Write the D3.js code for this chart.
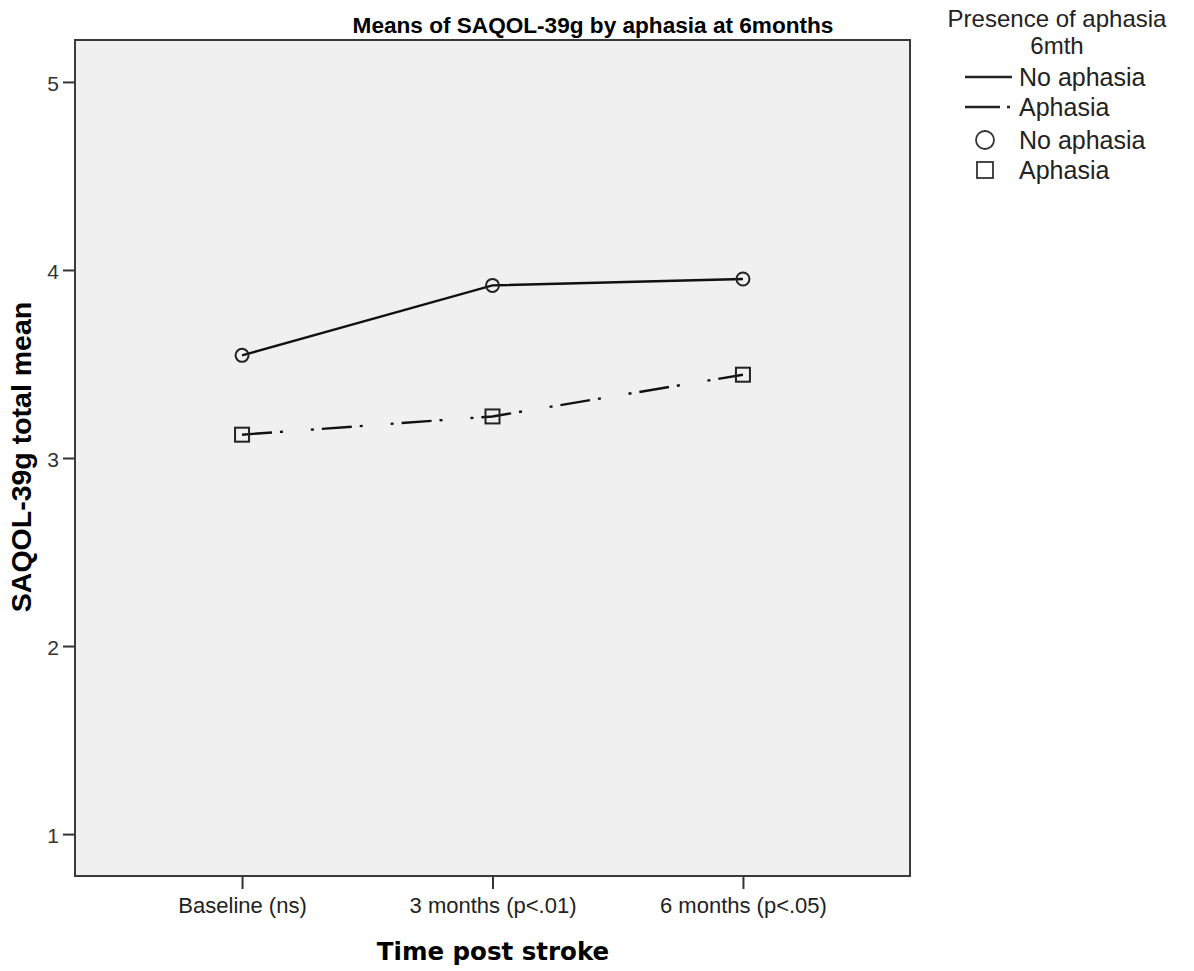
<!DOCTYPE html>
<html>
<head>
<meta charset="utf-8">
<script src="https://cdn.jsdelivr.net/npm/d3@7"></script>
<style>
  html, body { margin: 0; padding: 0; background: #fff; }
  svg { display: block; }
</style>
</head>
<body>
<svg id="chart" width="1194" height="971"></svg>
<script>
// ---- data ----
const categories = ["Baseline (ns)", "3 months (p<.01)", "6 months (p<.05)"];
const noAphasia = [3.546, 3.918, 3.952];
const aphasia = [3.124, 3.221, 3.443];
const yTicks = [1, 2, 3, 4, 5];
const seriesNames = ["No aphasia", "Aphasia"];

const svg = d3.select("#chart");
const plot = { left: 75, right: 910, top: 40, bottom: 876 };

const x = d3.scalePoint().domain(categories).range([plot.left, plot.right]).padding(0.667);
const y = d3.scaleLinear().domain([0.777, 5.223]).range([plot.bottom, plot.top]);

const fontReg = "'Liberation Sans', Arial, sans-serif";

// background
svg.append("rect")
  .attr("x", plot.left).attr("y", plot.top)
  .attr("width", plot.right - plot.left).attr("height", plot.bottom - plot.top)
  .attr("fill", "#f0f0f0");

// lines
const line = d3.line().x((d, i) => x(categories[i])).y(d => y(d));
svg.append("path").datum(noAphasia).attr("d", line)
  .attr("fill", "none").attr("stroke", "#111").attr("stroke-width", 2.4);
svg.append("path").datum(aphasia).attr("d", line)
  .attr("fill", "none").attr("stroke", "#111").attr("stroke-width", 2.4)
  .attr("stroke-dasharray", "30,8,3,28,3,8");

// markers
svg.selectAll("circle.m").data(noAphasia).enter().append("circle")
  .attr("cx", (d, i) => x(categories[i])).attr("cy", d => y(d)).attr("r", 6.5)
  .attr("fill", "none").attr("stroke", "#222").attr("stroke-width", 2);
svg.selectAll("rect.m").data(aphasia).enter().append("rect")
  .attr("x", (d, i) => x(categories[i]) - 7).attr("y", d => y(d) - 7)
  .attr("width", 14).attr("height", 14)
  .attr("fill", "none").attr("stroke", "#222").attr("stroke-width", 2);

// axes
const yAxis = svg.append("g").attr("transform", `translate(${plot.left},0)`)
  .call(d3.axisLeft(y).tickValues(yTicks).tickSize(12).tickPadding(4).tickFormat(d3.format("d")));
yAxis.select(".domain").remove();
yAxis.selectAll("line").attr("stroke", "#333").attr("stroke-width", 2);
yAxis.selectAll("text").attr("font-family", fontReg).attr("font-size", 21).attr("fill", "#333")
  .attr("dy", "0.4em");

const xAxis = svg.append("g").attr("transform", `translate(0,${plot.bottom})`)
  .call(d3.axisBottom(x).tickSize(13).tickPadding(6));
xAxis.select(".domain").remove();
xAxis.selectAll("line").attr("stroke", "#333").attr("stroke-width", 2);
xAxis.selectAll("text").attr("font-family", fontReg).attr("font-size", 22).attr("fill", "#222")
  .attr("dy", "0.8em");

// frame
svg.append("rect")
  .attr("x", plot.left).attr("y", plot.top)
  .attr("width", plot.right - plot.left).attr("height", plot.bottom - plot.top)
  .attr("fill", "none").attr("stroke", "#3a3a3a").attr("stroke-width", 2);

// title
svg.append("text").attr("x", 593).attr("y", 33).attr("text-anchor", "middle")
  .attr("font-family", fontReg).attr("font-weight", "bold").attr("font-size", 22.6)
  .attr("fill", "#000").text("Means of SAQOL-39g by aphasia at 6months");

// axis titles
svg.append("text").attr("x", 493).attr("y", 960).attr("text-anchor", "middle")
  .attr("font-family", "'DejaVu Sans', sans-serif").attr("font-weight", "bold").attr("font-size", 24.5)
  .attr("fill", "#000").text("Time post stroke");
svg.append("text").attr("transform", "translate(31,457) rotate(-90)").attr("text-anchor", "middle")
  .attr("font-family", fontReg).attr("font-weight", "bold").attr("font-size", 28.5)
  .attr("fill", "#000").text("SAQOL-39g total mean");

// legend
const lg = svg.append("g");
lg.append("text").attr("x", 1057).attr("y", 27).attr("text-anchor", "middle")
  .attr("font-family", fontReg).attr("font-size", 24).attr("fill", "#222").text("Presence of aphasia");
lg.append("text").attr("x", 1057).attr("y", 54).attr("text-anchor", "middle")
  .attr("font-family", fontReg).attr("font-size", 24).attr("fill", "#222").text("6mth");

const legItems = [
  { type: "solid", label: seriesNames[0], y: 77 },
  { type: "dash", label: seriesNames[1], y: 107 },
  { type: "circle", label: seriesNames[0], y: 140 },
  { type: "square", label: seriesNames[1], y: 170 }
];
legItems.forEach(it => {
  if (it.type === "solid") {
    lg.append("line").attr("x1", 965).attr("x2", 1012).attr("y1", it.y).attr("y2", it.y)
      .attr("stroke", "#222").attr("stroke-width", 2.5);
  } else if (it.type === "dash") {
    lg.append("line").attr("x1", 965).attr("x2", 1012).attr("y1", it.y).attr("y2", it.y)
      .attr("stroke", "#222").attr("stroke-width", 2.5).attr("stroke-dasharray", "35,7,3,20");
  } else if (it.type === "circle") {
    lg.append("circle").attr("cx", 985).attr("cy", it.y).attr("r", 9)
      .attr("fill", "none").attr("stroke", "#333").attr("stroke-width", 1.8);
  } else {
    lg.append("rect").attr("x", 977).attr("y", it.y - 8).attr("width", 16).attr("height", 16)
      .attr("fill", "none").attr("stroke", "#333").attr("stroke-width", 1.8);
  }
  lg.append("text").attr("x", 1019).attr("y", it.y + 9)
    .attr("font-family", fontReg).attr("font-size", 25).attr("fill", "#222").text(it.label);
});
</script>
</body>
</html>
